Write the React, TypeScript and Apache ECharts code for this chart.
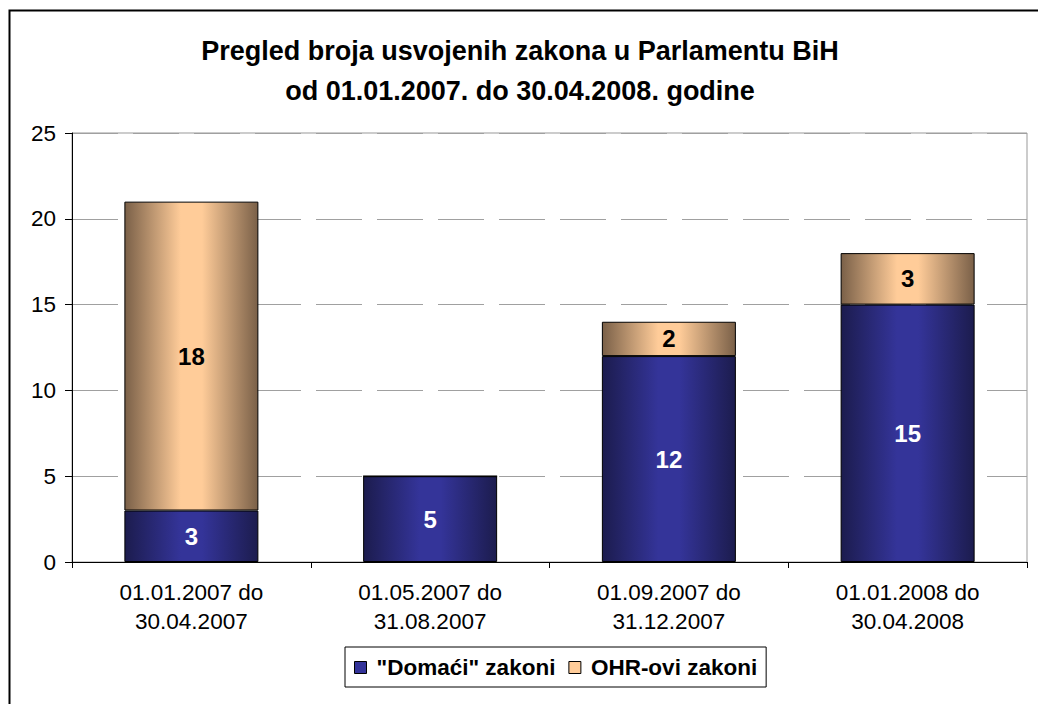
import React, { useEffect, useRef } from "react";
import * as echarts from "echarts";

const categories = [
  "01.01.2007 do\n30.04.2007",
  "01.05.2007 do\n31.08.2007",
  "01.09.2007 do\n31.12.2007",
  "01.01.2008 do\n30.04.2008",
];
const domaciZakoni = [3, 5, 12, 15];
const ohrZakoni = [18, 0, 2, 3];
const seriesNames = ['"Domaći" zakoni', "OHR-ovi zakoni"];
const yTicks = { min: 0, max: 25, interval: 5 };
const titleText = "Pregled broja usvojenih zakona u Parlamentu BiH\nod 01.01.2007. do 30.04.2008. godine";

const FONT = "'Liberation Sans', Arial, sans-serif";

function grad(edge: string, mid: string) {
  return new echarts.graphic.LinearGradient(0, 0, 1, 0, [
    { offset: 0, color: edge },
    { offset: 0.42, color: mid },
    { offset: 0.58, color: mid },
    { offset: 1, color: edge },
  ]);
}

export default function App() {
  const ref = useRef<HTMLDivElement>(null);
  useEffect(() => {
    if (!ref.current) return;
    const chart = echarts.init(ref.current, undefined, { renderer: "svg" });
    chart.setOption({
      animation: false,
      backgroundColor: "#ffffff",
      textStyle: { fontFamily: FONT },
      title: {
        text: titleText,
        left: 515,
        textAlign: "center",
        top: 26,
        textStyle: {
          fontFamily: FONT,
          fontSize: 27,
          fontWeight: "bold",
          color: "#000",
          lineHeight: 40,
        },
      },
      graphic: [
        {
          type: "rect",
          shape: { x: 9.5, y: 10.5, width: 1100, height: 800 },
          style: { fill: "none", stroke: "#000", lineWidth: 2 },
          silent: true,
        },
      ],
      legend: {
        left: 345,
        top: 647,
        orient: "horizontal",
        borderColor: "#000",
        borderWidth: 1,
        padding: [9, 9, 8, 9],
        itemGap: 13,
        itemWidth: 12,
        itemHeight: 12,
        icon: "rect",
        textStyle: { fontFamily: FONT, fontSize: 22.5, fontWeight: "bold", color: "#000", padding: [0, 0, 0, 5] },
        data: [
          { name: seriesNames[0], itemStyle: { color: "#333399", borderColor: "#000", borderWidth: 1 } },
          { name: seriesNames[1], itemStyle: { color: "#ffcc99", borderColor: "#000", borderWidth: 1 } },
        ],
      },
      grid: {
        left: 72,
        right: 11,
        top: 133,
        bottom: 142,
        show: true,
        borderColor: "#999",
        borderWidth: 1,
      },
      xAxis: {
        type: "category",
        data: categories,
        axisLine: { show: true, lineStyle: { color: "#000", width: 1 } },
        axisTick: { show: true, alignWithLabel: false, length: 6, lineStyle: { color: "#000" } },
        axisLabel: {
          fontFamily: FONT,
          fontSize: 22.5,
          color: "#000",
          lineHeight: 29,
          margin: 16,
          interval: 0,
        },
      },
      yAxis: {
        type: "value",
        min: yTicks.min,
        max: yTicks.max,
        interval: yTicks.interval,
        axisLine: { show: true, lineStyle: { color: "#000", width: 1 } },
        axisTick: { show: true, length: 7, lineStyle: { color: "#000" } },
        axisLabel: { fontFamily: FONT, fontSize: 22.5, color: "#000", margin: 16 },
        splitLine: {
          show: true,
          lineStyle: { color: "#a0a0a0", width: 1, type: [46, 15] },
        },
      },
      series: [
        {
          name: seriesNames[0],
          type: "bar",
          stack: "total",
          barWidth: 134,
          data: domaciZakoni,
          itemStyle: { color: grad("#1c1c4e", "#343499"), borderColor: "#000", borderWidth: 1 },
          label: {
            show: true,
            position: "inside",
            fontFamily: FONT,
            fontSize: 24,
            fontWeight: "bold",
            color: "#fff",
            formatter: (p: any) => (p.value ? String(p.value) : ""),
          },
        },
        {
          name: seriesNames[1],
          type: "bar",
          stack: "total",
          barWidth: 134,
          data: ohrZakoni,
          itemStyle: { color: grad("#7a6048", "#ffcc99"), borderColor: "#000", borderWidth: 1 },
          label: {
            show: true,
            position: "inside",
            fontFamily: FONT,
            fontSize: 24,
            fontWeight: "bold",
            color: "#000",
            formatter: (p: any) => (p.value ? String(p.value) : ""),
          },
        },
      ],
    });
    return () => chart.dispose();
  }, []);
  return (
    <div
      ref={ref}
      style={{ position: "fixed", left: 0, top: 0, width: 1038, height: 704, background: "#fff" }}
    />
  );
}
